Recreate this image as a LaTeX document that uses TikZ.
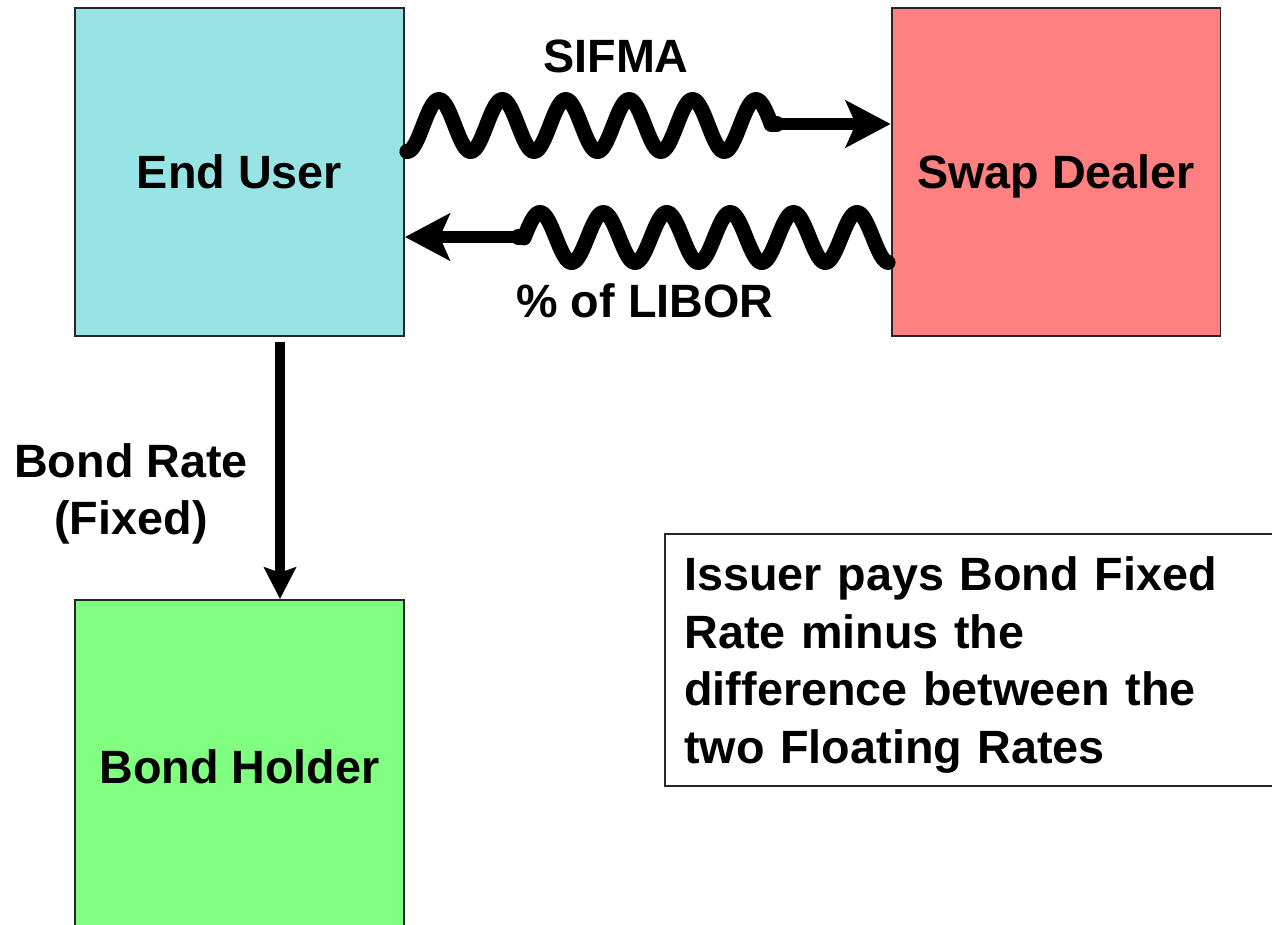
\documentclass[tikz,border=0pt]{standalone}
\usepackage{fontspec}
\setmainfont{Liberation Sans}
\usetikzlibrary{arrows.meta}

\definecolor{userfill}{RGB}{152,228,228}
\definecolor{dealerfill}{RGB}{255,128,128}
\definecolor{holderfill}{RGB}{128,255,128}

\begin{document}
\begin{tikzpicture}[x=0.02cm, y=-0.02cm,
  every node/.style={font=\fontsize{26.6}{32.9}\selectfont\bfseries},
  party/.style={draw=black!85, line width=1.1pt, minimum width=6.58cm, minimum height=6.56cm,
    inner sep=0pt, text height=19pt, text depth=0pt},
  notebox/.style={draw=black!85, line width=1.1pt, anchor=north west,
    minimum width=12.8cm, minimum height=5.04cm, inner sep=0pt},
  notetext/.style={anchor=north west, align=left, text width=12.0cm, inner sep=0pt},
  wave/.style={line width=8.6pt, line cap=round, line join=round},
  flowarrow/.style={line width=7pt, -{Stealth[length=25.5pt, width=26.6pt, inset=5.7pt]}},
  downarrow/.style={line width=6pt, -{Stealth[length=18pt, width=18pt, inset=3pt]}},
  lbl/.style={align=center, inner sep=0pt}
]
\path[use as bounding box, clip] (0,0) rectangle (1272,924);

% parties
\node[party, fill=userfill] (eu) at (239.5,172) {End User};
\node[party, fill=dealerfill] (sd) at (1056,172) {Swap Dealer};
\node[party, fill=holderfill, minimum height=6.68cm] (bh) at (239.5,767) {Bond Holder};

% explanatory note
\node[notebox] (note) at (664,533) {};
\node[notetext] (notetxt) at ([xshift=0.4cm, yshift=-0.46cm]note.north west)
  {Issuer pays Bond Fixed\\Rate minus the\\difference between the\\two Floating Rates};

% floating leg paid to the dealer (SIFMA)
\coordinate (w1s) at (eu.east |- 0,150);
\coordinate (w1e) at (771,124);
\draw[wave, shift={(w1s)}] plot[domain=2:366, samples=200, smooth]
  (\x, {-24.5 - 26*cos((\x+404-438)/63.4*360)});
\draw[wave] (w1e) -- ++(6,0);
\draw[flowarrow] (w1e) -- (sd.west |- w1e);

% floating leg received from the dealer (% of LIBOR)
\coordinate (w2s) at (sd.west |- 0,262);
\coordinate (w2e) at (524,237);
\draw[wave, shift={(w2e)}] plot[domain=0:364, samples=200, smooth]
  (\x, {0.5 - 25*cos((\x+524-540)/63.4*360)});
\draw[wave] (w2e) -- ++(-6,0);
\draw[flowarrow] (w2e) -- (eu.east |- w2e);

% fixed bond coupon
\draw[downarrow, shorten <=0.1cm] ([xshift=0.81cm]eu.south) -- ([xshift=0.81cm]bh.north);

% labels
\node[lbl] (sifma) at (616,56) {SIFMA};
\node[lbl] (libor) at (645,301) {\% of LIBOR};
\node[lbl] (fixed) at (131,494) {Bond Rate\\(Fixed)};
\end{tikzpicture}
\end{document}
